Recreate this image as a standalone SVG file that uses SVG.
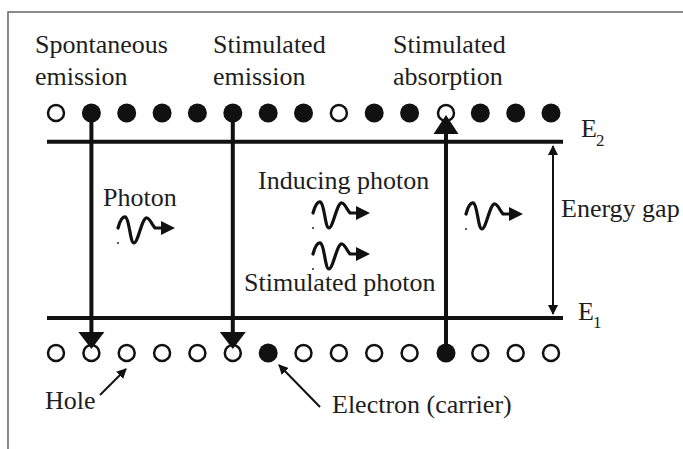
<svg xmlns="http://www.w3.org/2000/svg" xmlns:xlink="http://www.w3.org/1999/xlink" width="683" height="449" viewBox="0 0 683 449">
<style>
.t{font-family:"Liberation Serif","Times New Roman",serif;font-size:26px;fill:#1e1e1e}
.sub{font-family:"Liberation Serif","Times New Roman",serif;font-size:17px;fill:#1e1e1e}
.lvl{stroke:#111;stroke-width:4;fill:none}
.main{stroke:#111;stroke-width:4;fill:none}
.thin{stroke:#111;stroke-width:2;fill:none}
.head{fill:#111}
.full{fill:#111}
.empty{fill:#fff;stroke:#111;stroke-width:2.5}
.wave{stroke:#111;stroke-width:3.2;fill:none;stroke-linecap:round;stroke-linejoin:round}
</style>
<defs>
<g id="photon">
<path class="wave" d="M0,1 C2,-7 5,-11 7.5,-10 C11.5,-8 12,16 16,16 C20,16 24,-10 29,-9 C32,-8.5 34,-2 37,1 L46,1"/>
<polygon class="head" points="43,-6 57,1 43,8"/>
<circle cx="0" cy="16" r="1.1" fill="#333"/>
</g>
<marker id="sm" viewBox="0 0 10 10" refX="9" refY="5" markerWidth="5" markerHeight="5" orient="auto-start-reverse" markerUnits="strokeWidth">
<path d="M0,0 L10,5 L0,10 z" fill="#111"/>
</marker>
</defs>
<rect x="0" y="0" width="683" height="449" fill="#fff"/>
<rect x="8" y="12" width="700" height="500" fill="#fff" stroke="#6e6e6e" stroke-width="1.6"/>

<g id="labels">
<text class="t" x="35" y="53">Spontaneous</text>
<text class="t" x="35" y="85">emission</text>
<text class="t" x="213" y="53">Stimulated</text>
<text class="t" x="213" y="85">emission</text>
<text class="t" x="393" y="53">Stimulated</text>
<text class="t" x="393" y="85">absorption</text>
</g>

<g id="level-E2">
<line class="lvl" x1="47" y1="141.7" x2="563" y2="141.7"/>
<text class="t" x="581" y="137">E</text><text class="sub" x="596" y="146">2</text>
</g>
<g id="level-E1">
<line class="lvl" x1="47" y1="318" x2="563" y2="318"/>
<text class="t" x="578" y="320">E</text><text class="sub" x="593" y="328">1</text>
</g>

<g id="connectors">
<line class="main" x1="91.4" y1="113" x2="91.4" y2="334"/>
<polygon class="head" points="78.4,332 104.4,332 91.4,349"/>
<line class="main" x1="232.8" y1="113" x2="232.8" y2="334"/>
<polygon class="head" points="219.8,332 245.8,332 232.8,349"/>
<line class="main" x1="446" y1="353" x2="446" y2="132"/>
<polygon class="head" points="433.5,134 458.5,134 446,115"/>
<line class="thin" x1="553" y1="146" x2="553" y2="314" marker-start="url(#sm)" marker-end="url(#sm)"/>
<line class="thin" x1="100" y1="395" x2="126" y2="369" marker-end="url(#sm)"/>
<line class="thin" x1="320" y1="407" x2="279" y2="365" marker-end="url(#sm)"/>
</g>

<g id="upper-row">
<circle class="empty" cx="56" cy="113" r="8"/>
<circle class="full" cx="91.4" cy="113" r="9.5"/>
<circle class="full" cx="126.7" cy="113" r="9.5"/>
<circle class="full" cx="162.1" cy="113" r="9.5"/>
<circle class="full" cx="197.4" cy="113" r="9.5"/>
<circle class="full" cx="232.8" cy="113" r="9.5"/>
<circle class="full" cx="268.2" cy="113" r="9.5"/>
<circle class="full" cx="303.5" cy="113" r="9.5"/>
<circle class="empty" cx="338.9" cy="113" r="8"/>
<circle class="full" cx="374.2" cy="113" r="9.5"/>
<circle class="full" cx="409.6" cy="113" r="9.5"/>
<circle class="empty" cx="446" cy="113" r="8" style="fill:none"/>
<circle class="full" cx="480.3" cy="113" r="9.5"/>
<circle class="full" cx="515.7" cy="113" r="9.5"/>
<circle class="full" cx="551" cy="113" r="9.5"/>
</g>

<g id="lower-row">
<circle class="empty" cx="56" cy="353" r="8"/>
<circle class="empty" cx="91.4" cy="353" r="8" style="fill:none"/>
<circle class="empty" cx="126.7" cy="353" r="8"/>
<circle class="empty" cx="162.1" cy="353" r="8"/>
<circle class="empty" cx="197.4" cy="353" r="8"/>
<circle class="empty" cx="232.8" cy="353" r="8" style="fill:none"/>
<circle class="full" cx="268.2" cy="353" r="9.5"/>
<circle class="empty" cx="303.5" cy="353" r="8"/>
<circle class="empty" cx="338.9" cy="353" r="8"/>
<circle class="empty" cx="374.2" cy="353" r="8"/>
<circle class="empty" cx="409.6" cy="353" r="8"/>
<circle class="full" cx="446" cy="353" r="9.5"/>
<circle class="empty" cx="480.3" cy="353" r="8"/>
<circle class="empty" cx="515.7" cy="353" r="8"/>
<circle class="empty" cx="551" cy="353" r="8"/>
</g>

<g id="spontaneous-photon">
<text class="t" x="103" y="206">Photon</text>
<use xlink:href="#photon" x="118" y="227"/>
</g>
<g id="stimulated-photons">
<text class="t" x="258" y="189">Inducing photon</text>
<use xlink:href="#photon" x="313" y="212"/>
<use xlink:href="#photon" x="313" y="253"/>
<text class="t" x="244" y="291">Stimulated photon</text>
</g>
<g id="absorbed-photon">
<use xlink:href="#photon" x="466" y="213"/>
</g>
<g id="energy-gap">
<text class="t" x="561" y="217">Energy gap</text>
</g>
<g id="hole-label">
<text class="t" x="45" y="409">Hole</text>
</g>
<g id="electron-label">
<text class="t" x="332" y="413">Electron (carrier)</text>
</g>
</svg>
